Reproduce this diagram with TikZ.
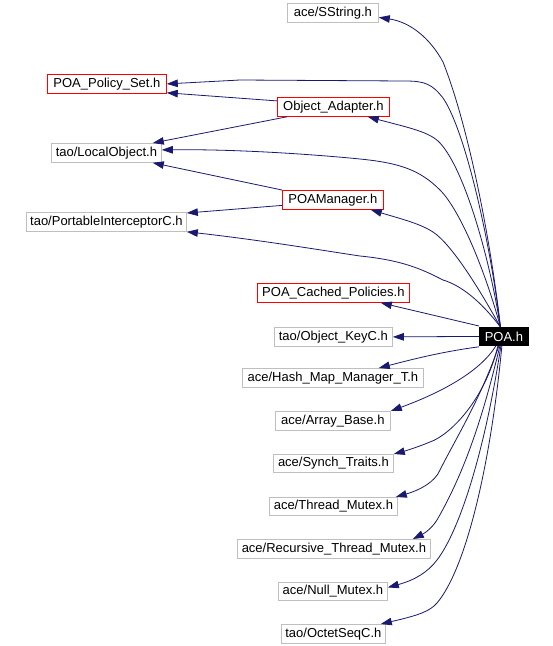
\documentclass[tikz,border=0pt]{standalone}
\usepackage{fontspec}
\setmainfont{Liberation Sans}
\usetikzlibrary{arrows.meta}
\definecolor{edgecol}{HTML}{191970}
\definecolor{graybox}{HTML}{BFBFBF}
\definecolor{redbox}{HTML}{FF0000}
\begin{document}
\begin{tikzpicture}[x=1pt,y=-1pt,
  base/.style={line width=0.8pt, inner sep=0pt, anchor=north west, minimum height=19pt,
    font=\fontsize{13}{15}\selectfont},
  gbox/.style={base, draw=graybox, fill=white},
  rbox/.style={base, draw=redbox, fill=white},
  mainbox/.style={base, draw=black, fill=black, text=white},
  edge/.style={draw=edgecol, line width=0.8pt, line join=round,
    -{Triangle[length=11pt,width=7.5pt]}}
]
\useasboundingbox (0,0) rectangle (553,646);
\fill[white] (0,0) rectangle (553,646);

% nodes
\node[gbox, minimum width=91pt]  (sstring)   at (287,3)   {ace/SString.h};
\node[rbox, minimum width=119pt] (policyset) at (47,74)   {POA\_Policy\_Set.h};
\node[rbox, minimum width=112pt] (oa)        at (277,97)  {Object\_Adapter.h};
\node[gbox, minimum width=110pt] (lo)        at (51,143)  {tao/LocalObject.h};
\node[rbox, minimum width=101pt] (poamgr)    at (282,190) {POAManager.h};
\node[gbox, minimum width=160pt] (pic)       at (26,212)  {tao/PortableInterceptorC.h};
\node[rbox, minimum width=152pt] (cached)    at (257,283) {POA\_Cached\_Policies.h};
\node[gbox, minimum width=118pt] (objkey)    at (274,327) {tao/Object\_KeyC.h};
\node[mainbox, minimum width=49pt, minimum height=18pt] (poa) at (479,327) {POA.h};
\node[gbox, minimum width=181pt] (hashmap)   at (242,368) {ace/Hash\_Map\_Manager\_T.h};
\node[gbox, minimum width=115pt] (arraybase) at (275,411) {ace/Array\_Base.h};
\node[gbox, minimum width=120pt, minimum height=18pt] (synch) at (273,454) {ace/Synch\_Traits.h};
\node[gbox, minimum width=128pt, minimum height=18pt] (thread) at (269,497) {ace/Thread\_Mutex.h};
\node[gbox, minimum width=193pt] (recursive) at (237,539) {ace/Recursive\_Thread\_Mutex.h};
\node[gbox, minimum width=109pt, minimum height=18pt] (null) at (278,582) {ace/Null\_Mutex.h};
\node[gbox, minimum width=104pt] (octet)     at (281,624) {tao/OctetSeqC.h};

% edges between secondary nodes
\draw[edge] ([yshift=6pt]oa.west) -- ([yshift=1pt]policyset.south east);
\draw[edge] ([xshift=10pt]oa.south west) -- ([xshift=-9pt]lo.north east);
\draw[edge] (poamgr.north west) -- ([xshift=-9pt]lo.south east);
\draw[edge] ([yshift=-5.5pt]poamgr.west) -- ([yshift=-1pt]pic.north east);

% edges from POA.h (upper group)
\draw[edge] ([xshift=-3.5pt]poa.north) .. controls (492,250) and (470,130) .. (443,62)
  .. controls (430,38) and (410,22) .. ([yshift=-4.5pt]sstring.east);
\draw[edge] ([xshift=-3.5pt]poa.north) .. controls (490,240) and (465,130) .. (443,98)
  .. controls (432,84) and (425,81) .. (405,81) -- (240,80) -- (policyset.east);
\draw[edge] ([xshift=-3.5pt]poa.north) .. controls (490,260) and (465,170) .. (440,143)
  .. controls (430,132) and (410,128) .. ([xshift=-22pt]oa.south east);
\draw[edge] ([xshift=-3.5pt]poa.north) .. controls (485,270) and (460,210) .. (440,190)
  .. controls (420,170) and (400,163) .. (360,159)
  .. controls (320,155) and (240,149) .. ([yshift=3pt]lo.east);
\draw[edge] ([xshift=-3.5pt]poa.north) .. controls (480,290) and (455,250) .. (437,235)
  .. controls (425,225) and (405,220) .. ([xshift=-13pt]poamgr.south east);
\draw[edge] ([xshift=-3.5pt]poa.north) .. controls (480,300) and (460,285) .. (443,280)
  .. controls (420,268) and (400,260) .. (360,256)
  .. controls (320,250) and (260,240) .. (pic.south east);

% edges from POA.h (side)
\draw[edge] ([yshift=1pt]poa.north west) -- ([xshift=-29pt]cached.south east);
\draw[edge] (poa.west) -- (objkey.east);
\draw[edge] ([yshift=-1pt]poa.south west) .. controls (440,352) and (410,360) .. ([xshift=-45pt]hashmap.north east);

% edges from POA.h (lower group)
\draw[edge] ([xshift=-8pt]poa.south) .. controls (480,372) and (440,393) .. (arraybase.north east);
\draw[edge] ([xshift=-6pt]poa.south) .. controls (485,400) and (450,435) .. (430,442)
  .. controls (418,447) and (405,451) .. (synch.north east);
\draw[edge] ([xshift=-5pt]poa.south) .. controls (480,400) and (455,440) .. (440,470)
  .. controls (435,482) and (420,490) .. ([xshift=-2pt]thread.north east);
\draw[edge] ([xshift=-4pt]poa.south) .. controls (480,430) and (460,480) .. (437,520)
  .. controls (432,528) and (425,533) .. ([xshift=-18pt]recursive.north east);
\draw[edge] ([xshift=-3pt]poa.south) .. controls (485,450) and (460,530) .. (437,560)
  .. controls (428,572) and (415,580) .. ([yshift=4pt]null.east);
\draw[edge] ([xshift=-2pt]poa.south) .. controls (490,470) and (465,570) .. (437,603)
  .. controls (430,611) and (420,615) .. ([xshift=-5pt]octet.north east);
\end{tikzpicture}
\end{document}
